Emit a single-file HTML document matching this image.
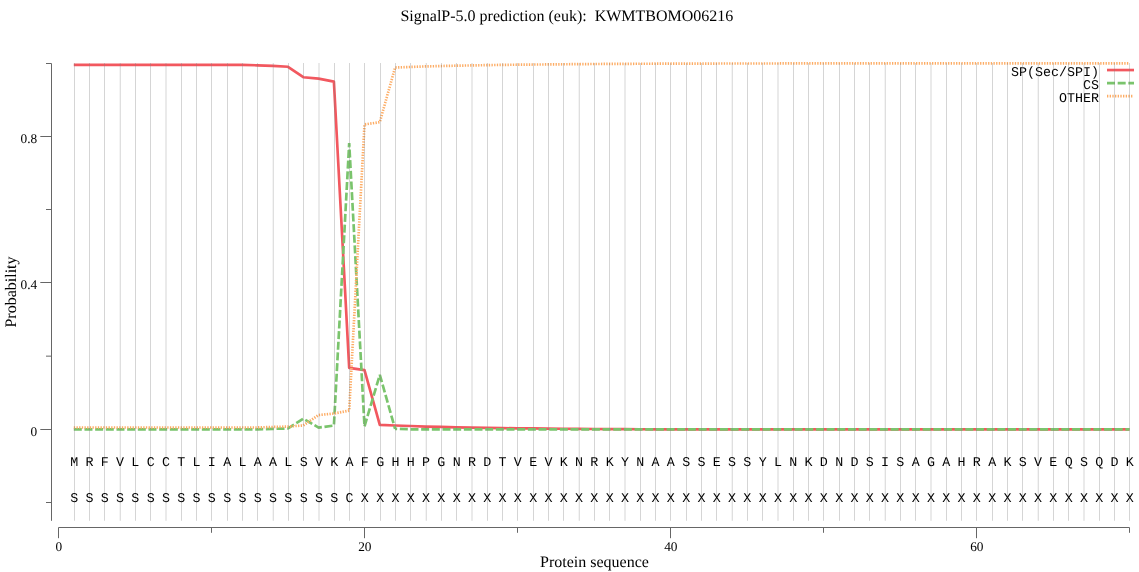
<!DOCTYPE html>
<html><head><meta charset="utf-8"><title>SignalP-5.0 prediction</title>
<style>
html,body{margin:0;padding:0;background:#fff;}
body{width:1139px;height:572px;overflow:hidden;}
svg{display:block;text-rendering:geometricPrecision;will-change:transform;}
.serif{font-family:"Liberation Serif",serif;fill:#000;}
.mono{font-family:"Liberation Mono",monospace;fill:#000;font-size:13.33px;}
</style></head><body>
<svg width="1139" height="572" viewBox="0 0 1139 572">
<g>
<text class="serif" x="566.9" y="21" font-size="16" text-anchor="middle" style="white-space:pre">SignalP-5.0 prediction (euk):  KWMTBOMO06216</text>
<path d="M46,63.5H51.5V520.8" stroke="#666666" stroke-width="1" fill="none" stroke-linejoin="round"/>
<text class="serif" x="37.2" y="143.1" font-size="13.33" text-anchor="end">0.8</text>
<text class="serif" x="37.2" y="289.1" font-size="13.33" text-anchor="end">0.4</text>
<text class="serif" x="37.2" y="436.1" font-size="13.33" text-anchor="end">0</text>
<path d="M58.5,538.2V527.5H1129.5V532.8" stroke="#666666" stroke-width="1" fill="none" stroke-linejoin="round"/>
<text class="serif" x="58.8" y="551" font-size="13.33" text-anchor="middle">0</text>
<text class="serif" x="364.8" y="551" font-size="13.33" text-anchor="middle">20</text>
<text class="serif" x="670.8" y="551" font-size="13.33" text-anchor="middle">40</text>
<text class="serif" x="976.8" y="551" font-size="13.33" text-anchor="middle">60</text>
<path d="M40.3,136.5H51.5M46,209.5H51.5M40.3,282.5H51.5M46,356.15H51.5M40.3,429.5H51.5M46,502.5H51.5M211.5,527.5V532.8M364.5,527.5V538.2M517.5,527.5V532.8M670.5,527.5V538.2M823.5,527.5V532.8M976.5,527.5V538.2" stroke="#666666" stroke-width="1" fill="none"/>
<text class="serif" x="594.5" y="567.0" font-size="16" text-anchor="middle">Protein sequence</text>
<text class="serif" transform="translate(15.7,292.0) rotate(-90)" font-size="16" text-anchor="middle">Probability</text>
<path d="M73.80,64.95 L89.10,64.95 L104.40,64.95 L119.70,64.95 L135.00,64.95 L150.30,64.95 L165.60,64.95 L180.90,64.95 L196.20,64.95 L211.50,64.95 L226.80,64.95 L242.10,64.95 L257.40,65.31 L272.70,65.86 L288.00,66.78 L303.30,77.21 L318.60,78.68 L333.90,81.60 L349.20,367.90 L364.50,370.09 L379.80,424.93 L395.10,425.48 L410.40,426.03 L425.70,426.58 L441.00,426.95 L456.30,427.31 L471.60,427.57 L486.90,427.86 L502.20,428.12 L517.50,428.30 L532.80,428.45 L548.10,428.57 L563.40,428.73 L578.70,428.86 L594.00,428.98 L609.30,429.08 L624.60,429.16 L639.90,429.23 L655.20,429.29 L670.50,429.29 L685.80,429.29 L701.10,429.29 L716.40,429.29 L731.70,429.29 L747.00,429.29 L762.30,429.29 L777.60,429.29 L792.90,429.29 L808.20,429.29 L823.50,429.29 L838.80,429.29 L854.10,429.29 L869.40,429.29 L884.70,429.29 L900.00,429.29 L915.30,429.29 L930.60,429.29 L945.90,429.29 L961.20,429.29 L976.50,429.29 L991.80,429.29 L1007.10,429.29 L1022.40,429.29 L1037.70,429.29 L1053.00,429.29 L1068.30,429.29 L1083.60,429.29 L1098.90,429.29 L1114.20,429.29 L1129.50,429.29" stroke="#f2585f" stroke-width="2.67" fill="none" stroke-linejoin="round" stroke-opacity="1"/>
<path d="M395.10,428.81 L410.40,429.29 L425.70,429.29 L441.00,429.29 L456.30,429.29 L471.60,429.29 L486.90,429.29 L502.20,429.29 L517.50,429.29 L532.80,429.29 L548.10,429.29 L563.40,429.29 L578.70,429.29 L594.00,429.29 L609.30,429.29 L624.60,429.29 L639.90,429.29 L655.20,429.29 L670.50,429.29 L685.80,429.29 L701.10,429.29 L716.40,429.29 L731.70,429.29 L747.00,429.29 L762.30,429.29 L777.60,429.29 L792.90,429.29 L808.20,429.29 L823.50,429.29 L838.80,429.29 L854.10,429.29 L869.40,429.29 L884.70,429.29 L900.00,429.29 L915.30,429.29 L930.60,429.29 L945.90,429.29 L961.20,429.29 L976.50,429.29 L991.80,429.29 L1007.10,429.29 L1022.40,429.29 L1037.70,429.29 L1053.00,429.29 L1068.30,429.29 L1083.60,429.29 L1098.90,429.29 L1114.20,429.29 L1129.50,429.29" stroke="#7ac46c" stroke-width="2.67" fill="none" stroke-dasharray="8 2.67" stroke-dashoffset="5.94"/>
<path d="M73.80,429.40 L89.10,429.40 L104.40,429.40 L119.70,429.40 L135.00,429.40 L150.30,429.40 L165.60,429.40 L180.90,429.40 L196.20,429.40 L211.50,429.40 L226.80,429.40 L242.10,429.40 L257.40,429.40 L272.70,428.85 L288.00,428.48 L303.30,418.64 L318.60,427.61 L333.90,425.52 L349.20,143.11 L364.50,426.47 L379.80,374.85 L395.10,428.81" stroke="#7ac46c" stroke-width="2.67" fill="none" stroke-dasharray="8 2.67" stroke-linejoin="bevel" stroke-opacity="1"/>
<path d="M73.80,427.46 L89.10,427.46 L104.40,427.46 L119.70,427.46 L135.00,427.46 L150.30,427.46 L165.60,427.46 L180.90,427.46 L196.20,427.46 L211.50,427.46 L226.80,427.46 L242.10,427.46 L257.40,427.46 L272.70,426.98 L288.00,426.54 L303.30,425.48 L318.60,414.98 L333.90,413.55 L349.20,410.58 L364.50,124.44 L379.80,122.17 L395.10,67.51 L410.40,66.96 L425.70,66.41 L441.00,66.05 L456.30,65.68 L471.60,65.42 L486.90,65.13 L502.20,64.87 L517.50,64.69 L532.80,64.54 L548.10,64.43 L563.40,64.27 L578.70,64.13 L594.00,64.01 L609.30,63.91 L624.60,63.83 L639.90,63.76 L655.20,63.70 L670.50,63.65 L685.80,63.61 L701.10,63.57 L716.40,63.54 L731.70,63.52 L747.00,63.49 L762.30,63.48 L777.60,63.46 L792.90,63.45 L808.20,63.44 L823.50,63.43 L838.80,63.42 L854.10,63.41 L869.40,63.41 L884.70,63.40 L900.00,63.40 L915.30,63.39 L930.60,63.39 L945.90,63.39 L961.20,63.38 L976.50,63.38 L991.80,63.38 L1007.10,63.38 L1022.40,63.38 L1037.70,63.38 L1053.00,63.38 L1068.30,63.38 L1083.60,63.38 L1098.90,63.38 L1114.20,63.38 L1129.50,63.38" stroke="#fdac64" stroke-width="2.67" fill="none" stroke-dasharray="1.33 1.34" stroke-linejoin="bevel" stroke-opacity="1"/>
<text class="mono" x="1099" y="75.80" text-anchor="end">SP(Sec/SPI)</text>
<path d="M1107,70.05H1134" stroke="#f2585f" stroke-width="2.67" fill="none" stroke-opacity="1"/>
<text class="mono" x="1099" y="88.80" text-anchor="end">CS</text>
<path d="M1107,83.05H1134" stroke="#7ac46c" stroke-width="2.67" fill="none" stroke-dasharray="8 2.67" stroke-opacity="1"/>
<text class="mono" x="1099" y="101.80" text-anchor="end">OTHER</text>
<path d="M1107,96.05H1133.5" stroke="#fdac64" stroke-width="2.67" fill="none" stroke-dasharray="1.33 1.34" stroke-opacity="1"/>
<path d="M74.5,63V520.8M89.5,63V520.8M104.5,63V520.8M120.25,63V520.8M135.5,63V520.8M150.5,63V520.8M166,63V520.8M181.5,63V520.8M196.5,63V520.8M211.5,63V520.8M227.5,63V520.8M242.5,63V520.8M257.5,63V520.8M273.25,63V520.8M288.5,63V520.8M303.5,63V520.8M319,63V520.8M334.5,63V520.8M349.5,63V520.8M364.5,63V520.8M380.5,63V520.8M395.5,63V520.8M410.5,63V520.8M426.25,63V520.8M441.5,63V520.8M456.5,63V520.8M472,63V520.8M487.5,63V520.8M502.5,63V520.8M517.5,63V520.8M533.5,63V520.8M548.5,63V520.8M563.5,63V520.8M579.25,63V520.8M594.5,63V520.8M609.5,63V520.8M625,63V520.8M640.5,63V520.8M655.5,63V520.8M670.5,63V520.8M686.5,63V520.8M701.5,63V520.8M716.5,63V520.8M732.25,63V520.8M747.5,63V520.8M762.5,63V520.8M778,63V520.8M793.5,63V520.8M808.5,63V520.8M823.5,63V520.8M839.5,63V520.8M854.5,63V520.8M869.5,63V520.8M885.25,63V520.8M900.5,63V520.8M915.5,63V520.8M931,63V520.8M946.5,63V520.8M961.5,63V520.8M976.5,63V520.8M992.5,63V520.8M1007.5,63V520.8M1022.5,63V520.8M1038.25,63V520.8M1053.5,63V520.8M1068.5,63V520.8M1084,63V520.8M1099.5,63V520.8M1114.5,63V520.8M1129.5,63V520.8" stroke="rgba(128,128,128,0.33)" stroke-width="1" fill="none"/>
<text class="mono" x="74.15" y="466" text-anchor="middle">M</text>
<text class="mono" x="89.45" y="466" text-anchor="middle">R</text>
<text class="mono" x="104.75" y="466" text-anchor="middle">F</text>
<text class="mono" x="120.05" y="466" text-anchor="middle">V</text>
<text class="mono" x="135.35" y="466" text-anchor="middle">L</text>
<text class="mono" x="150.65" y="466" text-anchor="middle">C</text>
<text class="mono" x="165.95" y="466" text-anchor="middle">C</text>
<text class="mono" x="181.25" y="466" text-anchor="middle">T</text>
<text class="mono" x="196.55" y="466" text-anchor="middle">L</text>
<text class="mono" x="211.85" y="466" text-anchor="middle">I</text>
<text class="mono" x="227.15" y="466" text-anchor="middle">A</text>
<text class="mono" x="242.45" y="466" text-anchor="middle">L</text>
<text class="mono" x="257.75" y="466" text-anchor="middle">A</text>
<text class="mono" x="273.05" y="466" text-anchor="middle">A</text>
<text class="mono" x="288.35" y="466" text-anchor="middle">L</text>
<text class="mono" x="303.65" y="466" text-anchor="middle">S</text>
<text class="mono" x="318.95" y="466" text-anchor="middle">V</text>
<text class="mono" x="334.25" y="466" text-anchor="middle">K</text>
<text class="mono" x="349.55" y="466" text-anchor="middle">A</text>
<text class="mono" x="364.85" y="466" text-anchor="middle">F</text>
<text class="mono" x="380.15" y="466" text-anchor="middle">G</text>
<text class="mono" x="395.45" y="466" text-anchor="middle">H</text>
<text class="mono" x="410.75" y="466" text-anchor="middle">H</text>
<text class="mono" x="426.05" y="466" text-anchor="middle">P</text>
<text class="mono" x="441.35" y="466" text-anchor="middle">G</text>
<text class="mono" x="456.65" y="466" text-anchor="middle">N</text>
<text class="mono" x="471.95" y="466" text-anchor="middle">R</text>
<text class="mono" x="487.25" y="466" text-anchor="middle">D</text>
<text class="mono" x="502.55" y="466" text-anchor="middle">T</text>
<text class="mono" x="517.85" y="466" text-anchor="middle">V</text>
<text class="mono" x="533.15" y="466" text-anchor="middle">E</text>
<text class="mono" x="548.45" y="466" text-anchor="middle">V</text>
<text class="mono" x="563.75" y="466" text-anchor="middle">K</text>
<text class="mono" x="579.05" y="466" text-anchor="middle">N</text>
<text class="mono" x="594.35" y="466" text-anchor="middle">R</text>
<text class="mono" x="609.65" y="466" text-anchor="middle">K</text>
<text class="mono" x="624.95" y="466" text-anchor="middle">Y</text>
<text class="mono" x="640.25" y="466" text-anchor="middle">N</text>
<text class="mono" x="655.55" y="466" text-anchor="middle">A</text>
<text class="mono" x="670.85" y="466" text-anchor="middle">A</text>
<text class="mono" x="686.15" y="466" text-anchor="middle">S</text>
<text class="mono" x="701.45" y="466" text-anchor="middle">S</text>
<text class="mono" x="716.75" y="466" text-anchor="middle">E</text>
<text class="mono" x="732.05" y="466" text-anchor="middle">S</text>
<text class="mono" x="747.35" y="466" text-anchor="middle">S</text>
<text class="mono" x="762.65" y="466" text-anchor="middle">Y</text>
<text class="mono" x="777.95" y="466" text-anchor="middle">L</text>
<text class="mono" x="793.25" y="466" text-anchor="middle">N</text>
<text class="mono" x="808.55" y="466" text-anchor="middle">K</text>
<text class="mono" x="823.85" y="466" text-anchor="middle">D</text>
<text class="mono" x="839.15" y="466" text-anchor="middle">N</text>
<text class="mono" x="854.45" y="466" text-anchor="middle">D</text>
<text class="mono" x="869.75" y="466" text-anchor="middle">S</text>
<text class="mono" x="885.05" y="466" text-anchor="middle">I</text>
<text class="mono" x="900.35" y="466" text-anchor="middle">S</text>
<text class="mono" x="915.65" y="466" text-anchor="middle">A</text>
<text class="mono" x="930.95" y="466" text-anchor="middle">G</text>
<text class="mono" x="946.25" y="466" text-anchor="middle">A</text>
<text class="mono" x="961.55" y="466" text-anchor="middle">H</text>
<text class="mono" x="976.85" y="466" text-anchor="middle">R</text>
<text class="mono" x="992.15" y="466" text-anchor="middle">A</text>
<text class="mono" x="1007.45" y="466" text-anchor="middle">K</text>
<text class="mono" x="1022.75" y="466" text-anchor="middle">S</text>
<text class="mono" x="1038.05" y="466" text-anchor="middle">V</text>
<text class="mono" x="1053.35" y="466" text-anchor="middle">E</text>
<text class="mono" x="1068.65" y="466" text-anchor="middle">Q</text>
<text class="mono" x="1083.95" y="466" text-anchor="middle">S</text>
<text class="mono" x="1099.25" y="466" text-anchor="middle">Q</text>
<text class="mono" x="1114.55" y="466" text-anchor="middle">D</text>
<text class="mono" x="1129.85" y="466" text-anchor="middle">K</text>
<text class="mono" x="74.15" y="502" text-anchor="middle">S</text>
<text class="mono" x="89.45" y="502" text-anchor="middle">S</text>
<text class="mono" x="104.75" y="502" text-anchor="middle">S</text>
<text class="mono" x="120.05" y="502" text-anchor="middle">S</text>
<text class="mono" x="135.35" y="502" text-anchor="middle">S</text>
<text class="mono" x="150.65" y="502" text-anchor="middle">S</text>
<text class="mono" x="165.95" y="502" text-anchor="middle">S</text>
<text class="mono" x="181.25" y="502" text-anchor="middle">S</text>
<text class="mono" x="196.55" y="502" text-anchor="middle">S</text>
<text class="mono" x="211.85" y="502" text-anchor="middle">S</text>
<text class="mono" x="227.15" y="502" text-anchor="middle">S</text>
<text class="mono" x="242.45" y="502" text-anchor="middle">S</text>
<text class="mono" x="257.75" y="502" text-anchor="middle">S</text>
<text class="mono" x="273.05" y="502" text-anchor="middle">S</text>
<text class="mono" x="288.35" y="502" text-anchor="middle">S</text>
<text class="mono" x="303.65" y="502" text-anchor="middle">S</text>
<text class="mono" x="318.95" y="502" text-anchor="middle">S</text>
<text class="mono" x="334.25" y="502" text-anchor="middle">S</text>
<text class="mono" x="349.55" y="502" text-anchor="middle">C</text>
<text class="mono" x="364.85" y="502" text-anchor="middle">X</text>
<text class="mono" x="380.15" y="502" text-anchor="middle">X</text>
<text class="mono" x="395.45" y="502" text-anchor="middle">X</text>
<text class="mono" x="410.75" y="502" text-anchor="middle">X</text>
<text class="mono" x="426.05" y="502" text-anchor="middle">X</text>
<text class="mono" x="441.35" y="502" text-anchor="middle">X</text>
<text class="mono" x="456.65" y="502" text-anchor="middle">X</text>
<text class="mono" x="471.95" y="502" text-anchor="middle">X</text>
<text class="mono" x="487.25" y="502" text-anchor="middle">X</text>
<text class="mono" x="502.55" y="502" text-anchor="middle">X</text>
<text class="mono" x="517.85" y="502" text-anchor="middle">X</text>
<text class="mono" x="533.15" y="502" text-anchor="middle">X</text>
<text class="mono" x="548.45" y="502" text-anchor="middle">X</text>
<text class="mono" x="563.75" y="502" text-anchor="middle">X</text>
<text class="mono" x="579.05" y="502" text-anchor="middle">X</text>
<text class="mono" x="594.35" y="502" text-anchor="middle">X</text>
<text class="mono" x="609.65" y="502" text-anchor="middle">X</text>
<text class="mono" x="624.95" y="502" text-anchor="middle">X</text>
<text class="mono" x="640.25" y="502" text-anchor="middle">X</text>
<text class="mono" x="655.55" y="502" text-anchor="middle">X</text>
<text class="mono" x="670.85" y="502" text-anchor="middle">X</text>
<text class="mono" x="686.15" y="502" text-anchor="middle">X</text>
<text class="mono" x="701.45" y="502" text-anchor="middle">X</text>
<text class="mono" x="716.75" y="502" text-anchor="middle">X</text>
<text class="mono" x="732.05" y="502" text-anchor="middle">X</text>
<text class="mono" x="747.35" y="502" text-anchor="middle">X</text>
<text class="mono" x="762.65" y="502" text-anchor="middle">X</text>
<text class="mono" x="777.95" y="502" text-anchor="middle">X</text>
<text class="mono" x="793.25" y="502" text-anchor="middle">X</text>
<text class="mono" x="808.55" y="502" text-anchor="middle">X</text>
<text class="mono" x="823.85" y="502" text-anchor="middle">X</text>
<text class="mono" x="839.15" y="502" text-anchor="middle">X</text>
<text class="mono" x="854.45" y="502" text-anchor="middle">X</text>
<text class="mono" x="869.75" y="502" text-anchor="middle">X</text>
<text class="mono" x="885.05" y="502" text-anchor="middle">X</text>
<text class="mono" x="900.35" y="502" text-anchor="middle">X</text>
<text class="mono" x="915.65" y="502" text-anchor="middle">X</text>
<text class="mono" x="930.95" y="502" text-anchor="middle">X</text>
<text class="mono" x="946.25" y="502" text-anchor="middle">X</text>
<text class="mono" x="961.55" y="502" text-anchor="middle">X</text>
<text class="mono" x="976.85" y="502" text-anchor="middle">X</text>
<text class="mono" x="992.15" y="502" text-anchor="middle">X</text>
<text class="mono" x="1007.45" y="502" text-anchor="middle">X</text>
<text class="mono" x="1022.75" y="502" text-anchor="middle">X</text>
<text class="mono" x="1038.05" y="502" text-anchor="middle">X</text>
<text class="mono" x="1053.35" y="502" text-anchor="middle">X</text>
<text class="mono" x="1068.65" y="502" text-anchor="middle">X</text>
<text class="mono" x="1083.95" y="502" text-anchor="middle">X</text>
<text class="mono" x="1099.25" y="502" text-anchor="middle">X</text>
<text class="mono" x="1114.55" y="502" text-anchor="middle">X</text>
<text class="mono" x="1129.85" y="502" text-anchor="middle">X</text>
</g></svg></body></html>
